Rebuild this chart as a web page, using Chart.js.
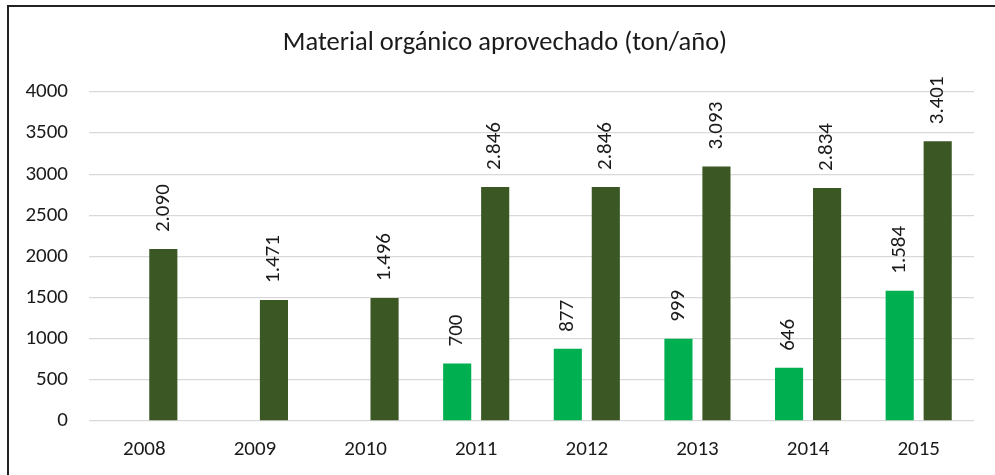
<!DOCTYPE html>
<html>
<head>
<meta charset="utf-8">
<script src="https://cdn.jsdelivr.net/npm/chart.js@4.4.1/dist/chart.umd.min.js"></script>
<style>
  html, body { margin: 0; padding: 0; background: #fff; }
  #wrap { width: 995px; height: 475px; position: relative; }
</style>
</head>
<body>
<div id="wrap"><canvas id="c"></canvas></div>
<script>
// Data
const titleText = 'Material orgánico aprovechado (ton/año)';
const years = ['2008', '2009', '2010', '2011', '2012', '2013', '2014', '2015'];
const serieClara = [null, null, null, 700, 877, 999, 646, 1584];
const serieOscura = [2090, 1471, 1496, 2846, 2846, 3093, 2834, 3401];
const yMin = 0, yMax = 4000, yStep = 500;

const FONT = 'Carlito, Calibri, Lato, sans-serif';
const TEXT = '#1a1a1a';

function fmtMiles(v) {
  return String(v).replace(/\B(?=(\d{3})+(?!\d))/g, '.');
}

// Frame, white background and title
const framePlugin = {
  id: 'frame',
  beforeDraw(chart) {
    const ctx = chart.ctx;
    ctx.save();
    ctx.fillStyle = '#fff';
    ctx.fillRect(0, 0, chart.width, chart.height);
    ctx.strokeStyle = '#222';
    ctx.lineWidth = 2;
    ctx.strokeRect(8, 6, chart.width + 20, chart.height + 20);
    ctx.fillStyle = TEXT;
    ctx.font = '26.5px ' + FONT;
    ctx.textAlign = 'center';
    ctx.textBaseline = 'middle';
    ctx.fillText(titleText, 505, 43);
    ctx.restore();
  }
};

// Rotated value labels above each bar
const valueLabels = {
  id: 'valueLabels',
  afterDatasetsDraw(chart) {
    const ctx = chart.ctx;
    ctx.save();
    ctx.fillStyle = TEXT;
    ctx.font = '21px ' + FONT;
    ctx.textAlign = 'left';
    ctx.textBaseline = 'middle';
    chart.data.datasets.forEach((ds, i) => {
      const meta = chart.getDatasetMeta(i);
      meta.data.forEach((el, j) => {
        const v = ds.data[j];
        if (v === null || v === undefined) return;
        ctx.save();
        ctx.translate(el.x, el.y - 17);
        ctx.rotate(-Math.PI / 2);
        ctx.fillText(fmtMiles(v), 0, 0);
        ctx.restore();
      });
    });
    ctx.restore();
  }
};

new Chart(document.getElementById('c'), {
  type: 'bar',
  data: {
    labels: years,
    datasets: [
      { label: 'Serie 1', data: serieClara, backgroundColor: '#00B050', borderWidth: 0 },
      { label: 'Serie 2', data: serieOscura, backgroundColor: '#3A5724', borderWidth: 0 }
    ]
  },
  options: {
    responsive: true,
    maintainAspectRatio: false,
    animation: false,
    devicePixelRatio: 1,
    categoryPercentage: 0.687,
    barPercentage: 0.74,
    layout: { padding: { top: 92, right: 21, bottom: 13, left: 0 } },
    plugins: {
      legend: { display: false },
      title: { display: false },
      tooltip: { enabled: false }
    },
    scales: {
      x: {
        afterFit(scale) { scale.height = 41; },
        grid: { display: false, drawTicks: false },
        border: { display: false },
        ticks: { color: TEXT, font: { family: FONT, size: 21 }, padding: 16 }
      },
      y: {
        min: yMin,
        max: yMax,
        afterFit(scale) { scale.width = 89; },
        grid: { color: '#D9D9D9', lineWidth: 1.3, drawTicks: false },
        border: { display: false },
        ticks: {
          stepSize: yStep,
          color: TEXT,
          font: { family: FONT, size: 21 },
          padding: 21,
          callback: v => String(v)
        }
      }
    }
  },
  plugins: [framePlugin, valueLabels]
});
</script>
</body>
</html>
